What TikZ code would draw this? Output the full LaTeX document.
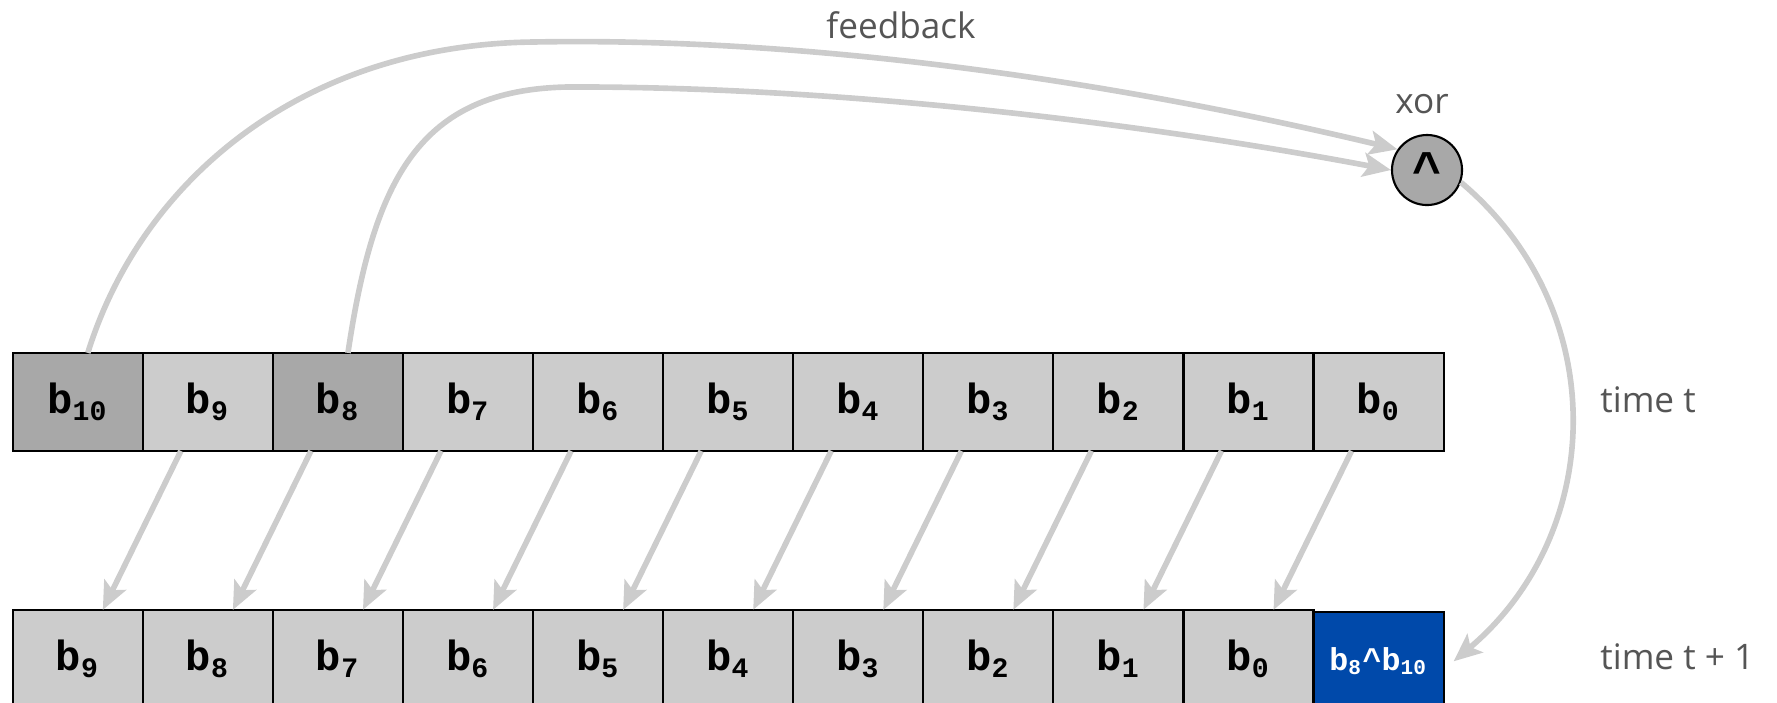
\documentclass[tikz,border=0pt]{standalone}
\usepackage{fontspec}
\usetikzlibrary{matrix,arrows.meta}
\newfontfamily\bitfont{Liberation Mono}
\newfontfamily\notefont{Open Sans}
\definecolor{cellgray}{HTML}{CCCCCC}
\definecolor{tapgray}{HTML}{A8A8A8}
\definecolor{xorblue}{HTML}{0049AA}
\definecolor{wiregray}{HTML}{CCCCCC}
\definecolor{notegray}{HTML}{555555}
\newcommand{\bit}[1]{b\textsubscript{#1}}
\tikzset{
    wire/.style={wiregray, line width=1.6pt, -{Stealth[length=2.8mm,width=2.4mm,inset=0.6mm]}},
    note/.style={text=notegray, font=\notefont\fontsize{10}{12}\selectfont},
    regrow/.style={matrix of nodes,
    ampersand replacement=\&,
    column sep={-0.6pt},
    inner sep=0pt,
    anchor=north west,
    nodes={outer sep=0pt, inner sep=1pt, minimum width=1.3cm, minimum height=0.98cm, draw, rectangle,
           line width=0.6pt, fill=cellgray, font=\bitfont\bfseries\fontsize{12}{14}\selectfont}}
}
\def\RegisterNow{
    \matrix (reg) [regrow] at (11,351)
    {
     |[fill=tapgray]| \bit{10} \& \bit{9} \& |[fill=tapgray]| \bit{8} \& \bit{7} \& \bit{6} \& \bit{5} \& \bit{4} \& \bit{3} \& \bit{2} \& \bit{1} \& \bit{0} \\
};
}
\def\RegisterNext{
    \matrix (next) [regrow] at (11,608)
    {
     \bit{9} \& \bit{8} \& \bit{7} \& \bit{6} \& \bit{5} \& \bit{4} \& \bit{3} \& \bit{2} \& \bit{1} \& \bit{0} \&
     |[fill=xorblue, text=white, font=\bitfont\bfseries\fontsize{9}{11}\selectfont]| \bit{8}\textasciicircum\bit{10} \\
};
}

\begin{document}
\begin{tikzpicture}[x=0.01cm, y=-0.01cm]
    \useasboundingbox (0,0) rectangle (1777,702);
    \RegisterNow
    \RegisterNext
    \node[circle, draw, fill=tapgray, minimum size=0.7cm, inner sep=0pt, line width=0.6pt,
          font=\bitfont\bfseries\fontsize{14}{14}\selectfont] (xor) at (1427,170) {\textasciicircum};
    \node[note] (xorlabel) at (1422,104) {xor};
    \node[note] (fblabel) at (901,25) {feedback};
    \node[note, anchor=west] (tnow) at (1588,400) {time t};
    \node[note, anchor=west] (tnext) at (1588,657) {time t + 1};
    % shift every bit one place left
    \foreach \c [count=\p] in {2,...,11}
        \draw[wire] ([xshift=-2.7mm]reg-1-\c.south) -- ([xshift=2.5mm]next-1-\p.north);
    % taps into the xor
    \draw[wire] ([xshift=1mm]reg-1-1.north) .. controls +(53,-171) and +(-233,3) .. (533,42)
        .. controls (800,37) and (1100,78) .. (xor.145);
    \draw[wire] ([xshift=1mm]reg-1-3.north) .. controls +(26,-175) and +(-147,3) .. (567,87)
        .. controls (800,86) and (1100,115) .. (xor.west);
    % xor result back into b0
    \draw[wire] (xor.-20) .. controls +(152,128) and +(152,-128) .. ([xshift=1mm]next-1-11.east);
\end{tikzpicture}
\end{document}
